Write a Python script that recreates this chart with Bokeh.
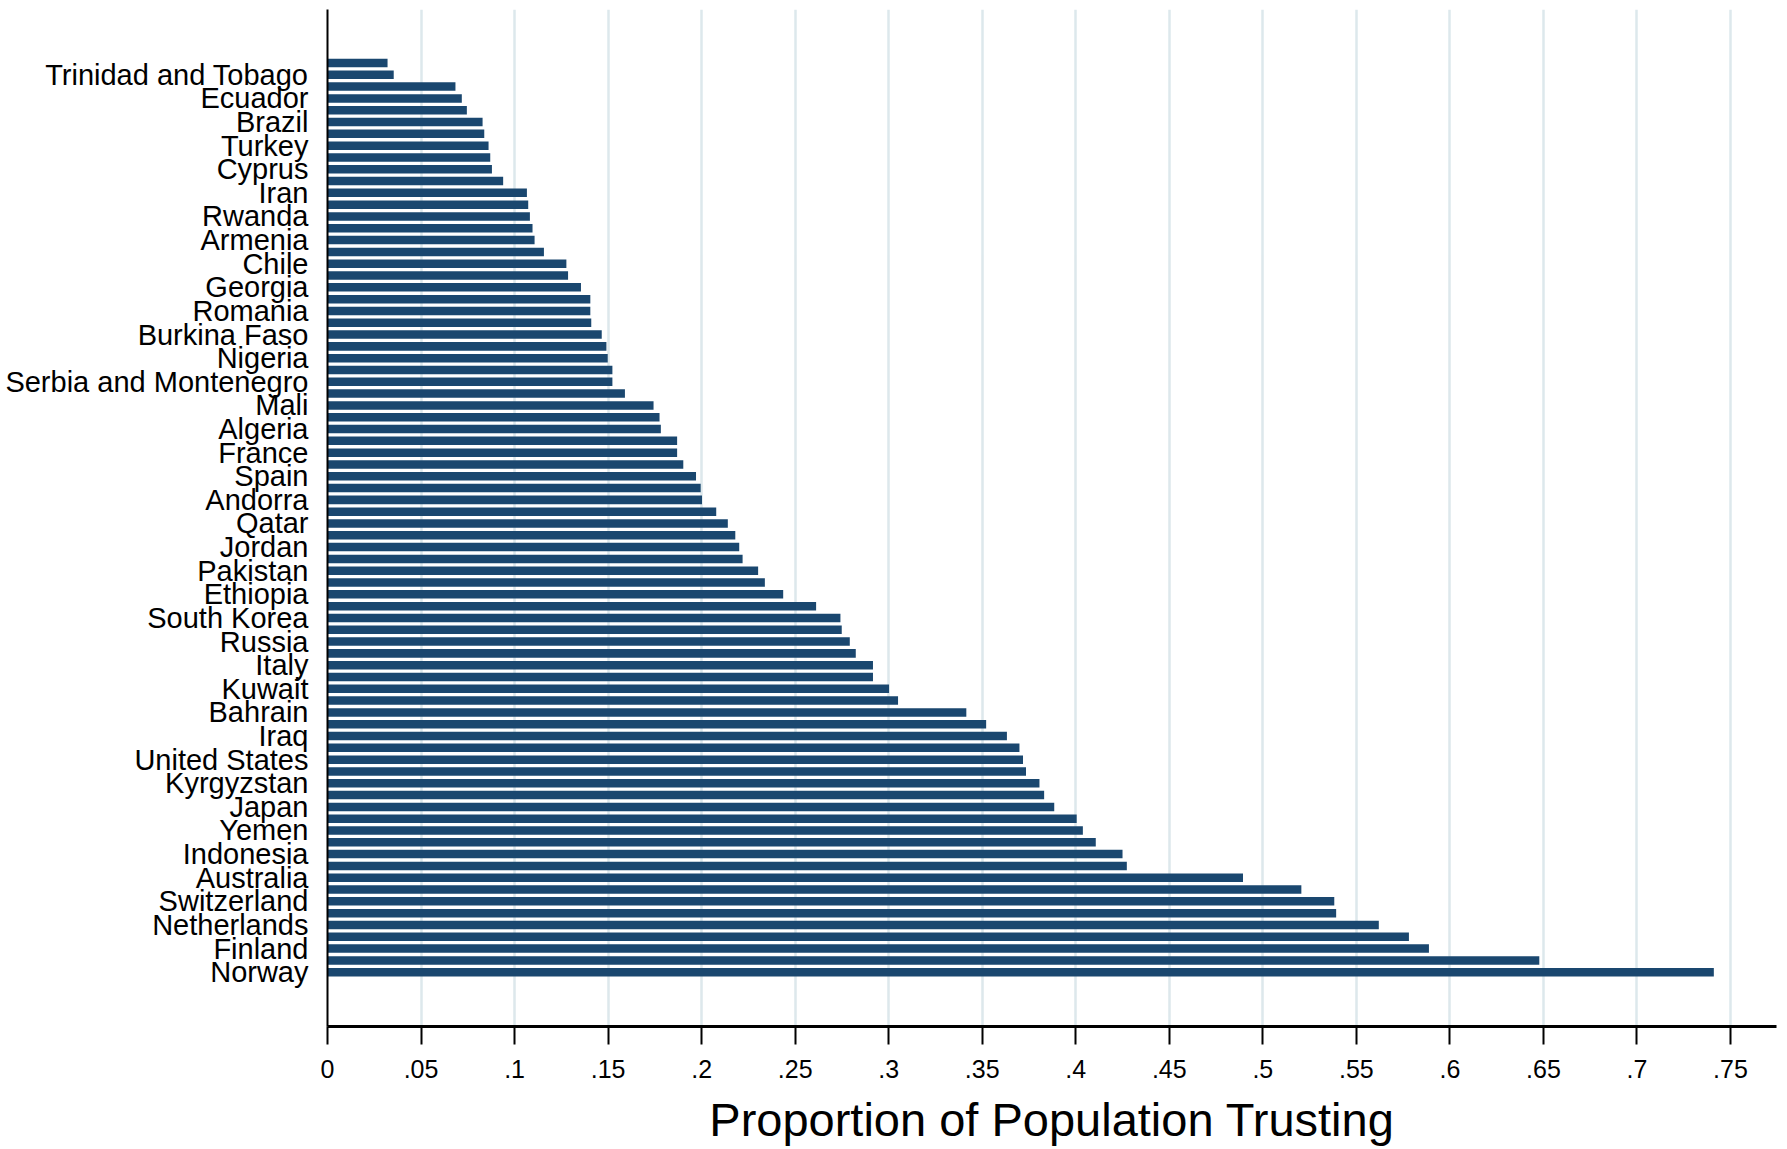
from bokeh.plotting import figure
from bokeh.models import Range1d, FixedTicker, ColumnDataSource
from bokeh.embed import file_html
from bokeh.resources import INLINE

# 78 bars; only every other bar carries a visible country label
countries = [
    "", "Trinidad and Tobago", "", "Ecuador", "", "Brazil", "", "Turkey",
    "", "Cyprus", "", "Iran", "", "Rwanda", "", "Armenia", "", "Chile",
    "", "Georgia", "", "Romania", "", "Burkina Faso", "", "Nigeria",
    "", "Serbia and Montenegro", "", "Mali", "", "Algeria", "", "France",
    "", "Spain", "", "Andorra", "", "Qatar", "", "Jordan", "", "Pakistan",
    "", "Ethiopia", "", "South Korea", "", "Russia", "", "Italy", "", "Kuwait",
    "", "Bahrain", "", "Iraq", "", "United States", "", "Kyrgyzstan",
    "", "Japan", "", "Yemen", "", "Indonesia", "", "Australia",
    "", "Switzerland", "", "Netherlands", "", "Finland", "", "Norway",
]
values = [
    0.0321, 0.0354, 0.0684, 0.0718, 0.0745, 0.0829, 0.0838, 0.0861, 0.0870, 0.0879,
    0.0939, 0.1066, 0.1073, 0.1082, 0.1096, 0.1107, 0.1157, 0.1277, 0.1286, 0.1355,
    0.1405, 0.1405, 0.1410, 0.1466, 0.1491, 0.1498, 0.1523, 0.1523, 0.1590, 0.1743,
    0.1775, 0.1782, 0.1869, 0.1869, 0.1902, 0.1970, 0.1995, 0.2002, 0.2078, 0.2140,
    0.2180, 0.2201, 0.2219, 0.2302, 0.2338, 0.2436, 0.2612, 0.2742, 0.2749, 0.2792,
    0.2824, 0.2916, 0.2916, 0.3002, 0.3050, 0.3415, 0.3521, 0.3632, 0.3699, 0.3718,
    0.3734, 0.3806, 0.3831, 0.3885, 0.4005, 0.4038, 0.4107, 0.4250, 0.4273, 0.4894,
    0.5206, 0.5382, 0.5392, 0.5620, 0.5781, 0.5888, 0.6478, 0.7411,
]
x_ticks = [0, 0.05, 0.1, 0.15, 0.2, 0.25, 0.3, 0.35, 0.4, 0.45, 0.5, 0.55, 0.6, 0.65, 0.7, 0.75]
x_tick_labels = ["0", ".05", ".1", ".15", ".2", ".25", ".3", ".35", ".4", ".45",
                 ".5", ".55", ".6", ".65", ".7", ".75"]
x_title = "Proportion of Population Trusting"

positions = list(range(1, len(values) + 1))
source = ColumnDataSource(dict(pos=positions, value=values, country=countries))

FONT = "Liberation Sans"
BAR = "#1a476f"

p = figure(
    width=1779, height=1148,
    x_range=Range1d(0, 0.7746),
    y_range=Range1d(len(values) + 4.6, 1 - 4.53),
    output_backend="svg", toolbar_location=None,
    min_border_left=327, min_border_right=3, min_border_top=9, min_border_bottom=121,
)
p.outline_line_color = None
p.background_fill_color = "white"
p.border_fill_color = "white"

p.hbar(y="pos", right="value", left=0, height=0.72, source=source,
       fill_color=BAR, line_color=None)

# x axis
p.xaxis.ticker = FixedTicker(ticks=x_ticks)
p.xaxis.major_label_overrides = {t: l for t, l in zip(x_ticks, x_tick_labels)}
p.xaxis.axis_label = x_title
p.xaxis.axis_label_text_font = FONT
p.xaxis.axis_label_text_font_size = "47px"
p.xaxis.axis_label_text_font_style = "normal"
p.xaxis.axis_label_text_color = "black"
p.xaxis.axis_label_standoff = 12
p.xaxis.major_label_text_font = FONT
p.xaxis.major_label_text_font_size = "25px"
p.xaxis.major_label_text_color = "black"
p.xaxis.major_label_standoff = 15
p.xaxis.major_tick_out = 18
p.xaxis.major_tick_in = 0
p.xaxis.minor_tick_line_color = None
p.xaxis.major_tick_line_width = 2
p.xaxis.major_tick_line_color = "black"
p.xaxis.axis_line_width = 3
p.xaxis.axis_line_color = "black"

# y axis
label_pos = [pos for pos, c in zip(positions, countries) if c]
p.yaxis.ticker = FixedTicker(ticks=label_pos)
p.yaxis.major_label_overrides = {pos: c for pos, c in zip(positions, countries) if c}
p.yaxis.major_label_text_font = FONT
p.yaxis.major_label_text_font_size = "29px"
p.yaxis.major_label_text_color = "black"
p.yaxis.major_label_standoff = 19
p.yaxis.major_tick_out = 0
p.yaxis.major_tick_in = 0
p.yaxis.major_tick_line_color = None
p.yaxis.minor_tick_line_color = None
p.yaxis.axis_line_width = 2
p.yaxis.axis_line_color = "black"

# grid
p.xgrid.ticker = FixedTicker(ticks=x_ticks[1:])
p.xgrid.grid_line_color = "#dde8ec"
p.xgrid.grid_line_width = 2.5
p.ygrid.grid_line_color = None

open("out.html", "w").write(file_html(p, INLINE))
